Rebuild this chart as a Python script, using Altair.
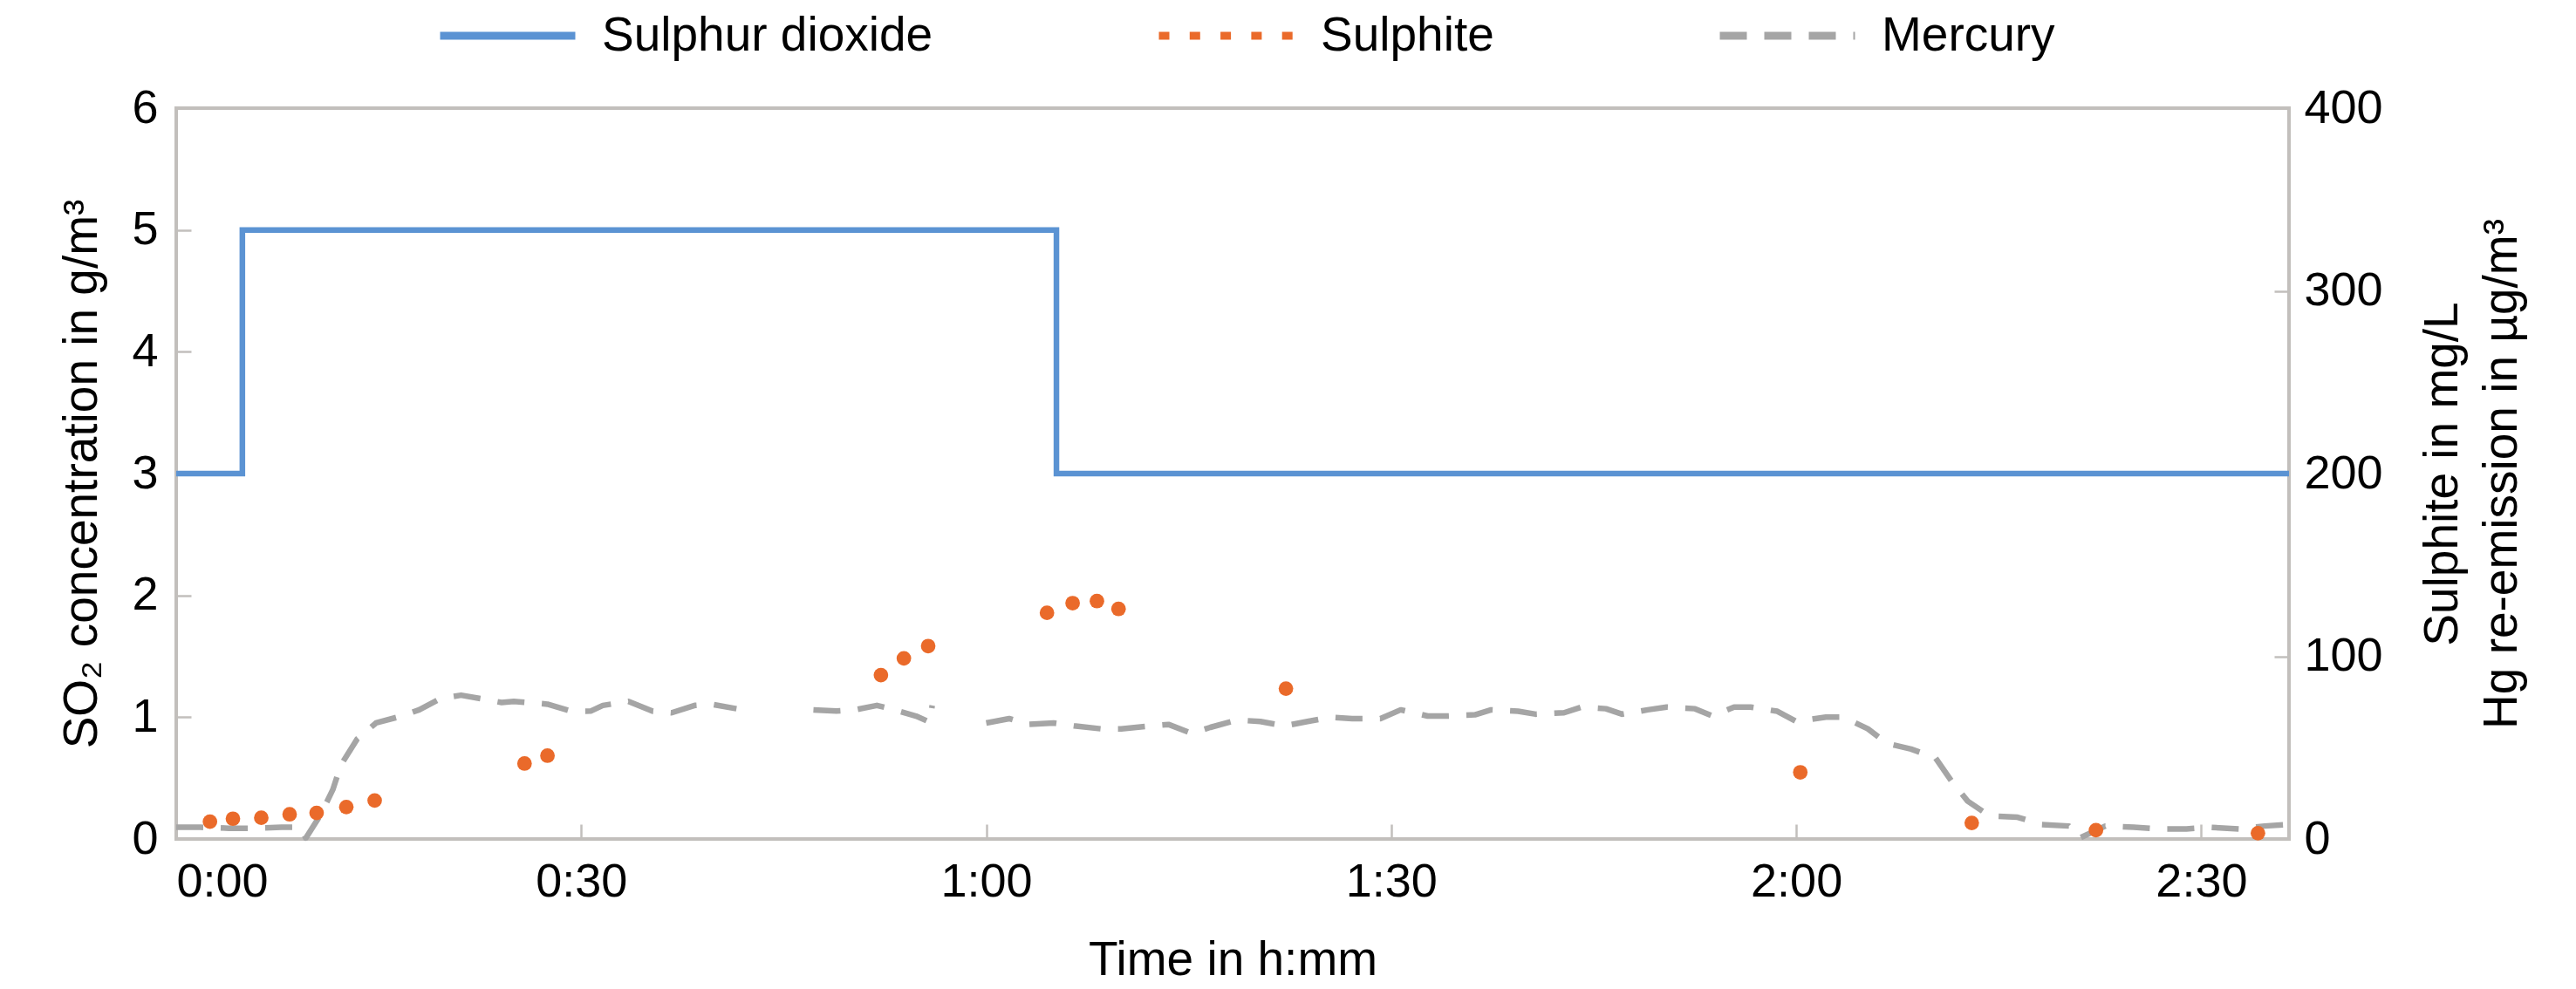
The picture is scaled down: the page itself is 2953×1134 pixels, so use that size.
import altair as alt
import pandas as pd

FONT = "Liberation Sans"

# ---------------- data ----------------
series_names = ["Sulphur dioxide", "Sulphite", "Mercury"]
series_colors = ["#5B93D3", "#EA6A2A", "#A5A5A5"]

# time in minutes
so2_time = [0, 4.9, 65.2, 156.5]
so2_value = [3, 5, 3, 3]  # g/m3

sulphite_time = [2.5, 4.2, 6.3, 8.4, 10.4, 12.6, 14.7, 25.8, 27.5,
                 52.2, 53.9, 55.7, 64.5, 66.4, 68.2, 69.8, 82.2,
                 120.3, 133.0, 142.2, 154.2]
sulphite_value = [9.5, 11.1, 11.6, 13.5, 14.3, 17.5, 21.1, 41.3, 45.6,
                  89.7, 98.9, 105.6, 123.8, 129.1, 130.2, 125.9, 82.3,
                  36.5, 8.8, 4.8, 3.2]  # mg/L

mercury_time = [0, 1.8, 3.9, 5.8, 7.8, 9.2, 9.6, 10.7, 11.6, 12.2, 13.4, 14.8,
                16.7, 18.0, 19.6, 21.1, 23.0, 24.1, 25.0, 26.0, 27.5, 29.3,
                30.7, 31.6, 33.5, 35.3, 36.7, 38.4, 39.6, 41.5, 44.0,
                47.2, 48.9, 50.3, 51.9, 53.2, 54.8, 55.8, 56.0, 58.0,
                60.0, 61.7, 63.1, 65.0, 66.5, 68.5, 70.0, 72.2, 73.5, 75.2,
                76.6, 78.6, 80.3, 82.1, 83.8, 85.5, 87.1, 89.2, 90.7, 92.7,
                94.1, 96.2, 97.4, 99.4, 100.7, 102.8, 104.1, 105.9, 107.1,
                109.0, 110.4, 112.5, 113.8, 115.4, 116.6, 118.6, 120.0, 122.2,
                123.5, 125.3, 126.7, 128.5, 130.3, 131.5, 132.7, 134.3, 136.4,
                138.2, 140.2, 141.0, 142.9, 145.0, 146.8, 148.9, 150.6, 152.8,
                154.7, 156.5]
mercury_value = [6.4, 6.4, 5.9, 5.9, 6.4, 6.4, 0.5, 13.3, 27.0, 40.5, 54.7, 63.5,
                 67.3, 70.7, 77.0, 78.7, 76.2, 74.7, 75.3, 74.7, 73.8, 69.9,
                 70.0, 73.1, 75.3, 69.9, 69.1, 73.1, 73.8, 71.3, None,
                 70.7, 70.0, 70.7, 73.1, 70.7, 67.3, 64.0, 73.1, None,
                 63.5, 65.9, 62.7, 63.5, 61.9, 60.3, 60.3, 61.9, 62.7, 57.9,
                 61.1, 65.1, 64.3, 61.9, 64.3, 66.7, 65.9, 65.9, 70.7, 67.3,
                 67.3, 68.0, 70.7, 69.9, 68.3, 69.1, 72.2, 71.3, 68.3,
                 70.7, 72.2, 71.3, 67.3, 72.2, 72.2, 69.9, 64.3, 66.7,
                 66.7, 60.3, 52.4, 49.2, 44.5, 31.7, 20.7, 12.7, 11.9,
                 7.9, 7.1, 0.5, 7.1, 6.4, 5.5, 5.5, 6.4, 5.5,
                 7.1, 7.9]  # µg/m3

x_ticks = [0, 30, 60, 90, 120, 150]
x_domain = [0, 156.5]
left_ticks = [0, 1, 2, 3, 4, 5, 6]
left_domain = [0, 6]
right_ticks = [0, 100, 200, 300, 400]
right_domain = [0, 400]

# ---------------- tables ----------------
so2_df = pd.DataFrame({"t": so2_time, "v": so2_value, "series": "Sulphur dioxide"})
sul_df = pd.DataFrame({"t": sulphite_time, "v": sulphite_value, "series": "Sulphite"})

rows = []
seg = 0
for t, v in zip(mercury_time, mercury_value):
    if v is None:
        seg += 1
        continue
    rows.append({"t": t, "v": v, "seg": seg, "series": "Mercury"})
merc_df = pd.DataFrame(rows)

# ---------------- styling ----------------
AXIS_GRAY = "#C2BFBC"
W, H = 2422, 838
TICK = 17

x_enc = alt.X(
    "t:Q",
    scale=alt.Scale(domain=x_domain, nice=False, zero=False),
    axis=alt.Axis(
        values=x_ticks,
        labelExpr="floor(datum.value / 60) + ':' + (datum.value % 60 < 10 ? '0' : '') + (datum.value % 60)",
        title="Time in h:mm",
        titleX=W / 2,
        titleY=155,
        titleBaseline="alphabetic",
        titleAlign="center",
        labelPadding=22,
        grid=True,
        gridDash=[TICK, H - TICK],
        gridDashOffset=TICK,
        gridColor=AXIS_GRAY,
        gridWidth=2.5,
    ),
)

left_y = alt.Y(
    "v:Q",
    scale=alt.Scale(domain=left_domain, nice=False),
    axis=alt.Axis(
        orient="left",
        values=left_ticks,
        title="SO₂ concentration in g/m³",
        titleAngle=270,
        titleX=-92,
        titleY=H / 2,
        titleAlign="center",
        titleBaseline="alphabetic",
        labelPadding=21,
        grid=True,
        gridDash=[TICK, 5000],
        gridColor=AXIS_GRAY,
        gridWidth=2.5,
    ),
)

right_y = alt.Y(
    "v:Q",
    scale=alt.Scale(domain=right_domain, nice=False),
    axis=alt.Axis(
        orient="right",
        values=right_ticks,
        title=["Sulphite in mg/L", "Hg re-emission in µg/m³"],
        titleAngle=270,
        titleX=192,
        titleY=H / 2,
        titleAlign="center",
        titleBaseline="alphabetic",
        titleLineHeight=68,
        labelPadding=17,
        grid=True,
        gridDash=[TICK, 5000],
        gridColor=AXIS_GRAY,
        gridWidth=2.5,
    ),
)

legend = alt.Legend(
    title=None,
    orient="none",
    direction="horizontal",
    columns=3,
    legendX=298,
    legendY=-165,
    padding=0,
    symbolType="stroke",
    symbolSize=24025,
    symbolStrokeWidth=9,
    labelFont=FONT,
    labelFontSize=55,
    labelColor="#000000",
    labelOffset=26,
    labelLimit=1000,
    columnPadding=240,
)

color_enc = alt.Color(
    "series:N",
    scale=alt.Scale(domain=series_names, range=series_colors),
    legend=legend,
)
dash_enc = alt.StrokeDash(
    "series:N",
    scale=alt.Scale(domain=series_names, range=[[1, 0], [12, 23.3], [31, 20]]),
    legend=legend,
)

so2_layer = alt.Chart(so2_df).mark_line(
    interpolate="step-after", strokeWidth=6.5, strokeCap="butt", strokeJoin="miter"
).encode(x=x_enc, y=left_y, color=color_enc, strokeDash=dash_enc)

merc_layer = alt.Chart(merc_df).mark_line(
    strokeWidth=6.5, strokeCap="butt", strokeJoin="round"
).encode(x=x_enc, y=right_y, color=color_enc, strokeDash=dash_enc,
         detail=alt.Detail("seg:N"))

sul_layer = alt.Chart(sul_df).mark_circle(
    size=280, opacity=1, color=series_colors[1]
).encode(x=x_enc, y=right_y)

right_part = alt.layer(merc_layer, sul_layer)

chart = (
    alt.layer(so2_layer, right_part)
    .resolve_scale(y="independent")
    .properties(
        width=W,
        height=H,
        autosize=alt.AutoSizeParams(type="none"),
        padding={"left": 194, "top": 116, "right": 300, "bottom": 170},
        background="white",
    )
    .configure(font=FONT)
    .configure_view(stroke=AXIS_GRAY, strokeWidth=4)
    .configure_axis(
        domain=False,
        ticks=False,
        tickSize=0,
        labelFont=FONT,
        labelFontSize=54,
        labelColor="#000000",
        titleFont=FONT,
        titleFontSize=55,
        titleFontWeight="normal",
        titleColor="#000000",
        labelLimit=1000,
        titleLimit=3000,
    )
)

chart.save("out.html", embed_options={"renderer": "svg", "actions": False})
